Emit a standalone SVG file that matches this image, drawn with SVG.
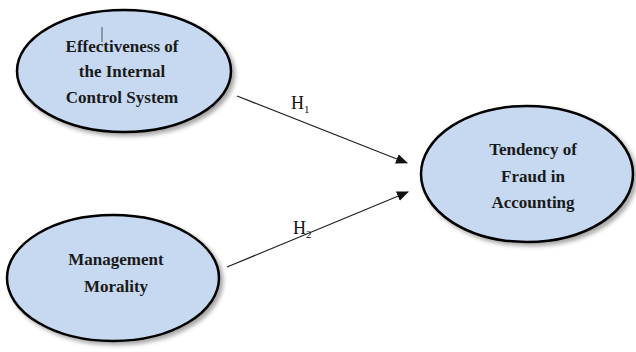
<svg xmlns="http://www.w3.org/2000/svg" width="636" height="352" viewBox="0 0 636 352">
<style>
.node ellipse{fill:#c6d9f1;stroke:#000;stroke-width:2.5;filter:url(#sh)}
.lbl{font-family:"Liberation Serif","Times New Roman",serif;font-weight:bold;font-size:17px;fill:#1a1a1a;text-anchor:middle}
.edge{stroke:#222;stroke-width:1.2;fill:none;marker-end:url(#ah)}
.h{font-family:"Liberation Serif","Times New Roman",serif;font-size:18px;fill:#111}
.sub{font-size:11px}
</style>
<defs>
<filter id="sh" x="-10%" y="-10%" width="130%" height="130%">
<feDropShadow dx="3" dy="3" stdDeviation="2" flood-color="#000" flood-opacity="0.35"/>
</filter>
<marker id="ah" markerWidth="12" markerHeight="10" refX="11" refY="5" orient="auto" markerUnits="userSpaceOnUse">
<path d="M0,0 L12,5 L0,10 Z" fill="#111"/>
</marker>
</defs>
<rect width="636" height="352" fill="#fff"/>
<g id="connectors">
<line class="edge" x1="237" y1="96" x2="407" y2="163"/>
<line class="edge" x1="227" y1="267" x2="408" y2="192"/>
<text class="h" x="291" y="109">H<tspan class="sub" dy="4">1</tspan></text>
<text class="h" x="293" y="234">H<tspan class="sub" dy="4">2</tspan></text>
</g>
<g id="node-ics" class="node">
<ellipse cx="124" cy="71" rx="107" ry="61"/>
<text class="lbl" x="122" y="52">Effectiveness of</text>
<text class="lbl" x="122" y="77">the Internal</text>
<text class="lbl" x="122" y="103">Control System</text>
<line x1="102" y1="27" x2="102" y2="42" stroke="#333" stroke-width="0.8"/>
</g>
<g id="node-fraud" class="node">
<ellipse cx="527" cy="174" rx="106" ry="68"/>
<text class="lbl" x="533" y="155">Tendency of</text>
<text class="lbl" x="533" y="182">Fraud in</text>
<text class="lbl" x="533" y="208">Accounting</text>
</g>
<g id="node-moral" class="node">
<ellipse cx="113" cy="278" rx="106" ry="63"/>
<text class="lbl" x="116" y="265">Management</text>
<text class="lbl" x="116" y="292">Morality</text>
</g>
</svg>
